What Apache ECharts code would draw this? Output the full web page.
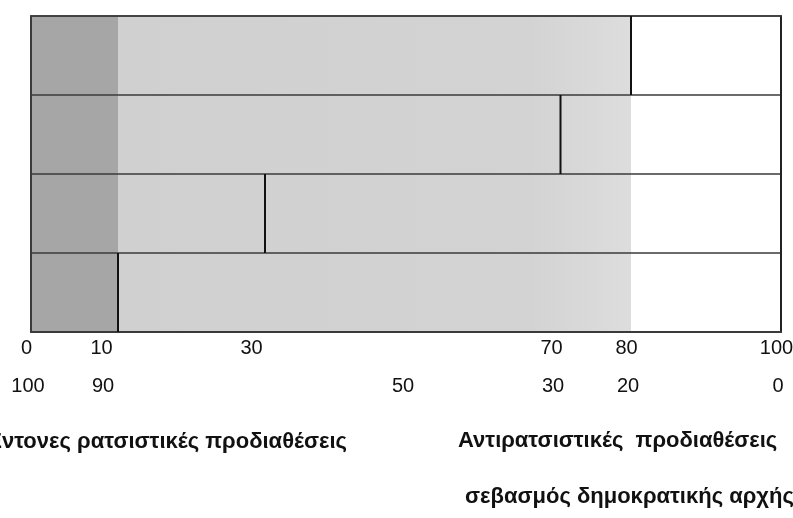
<!DOCTYPE html>
<html>
<head>
<meta charset="utf-8">
<script src="https://cdn.jsdelivr.net/npm/echarts@6/dist/echarts.min.js"></script>
<style>html,body{margin:0;padding:0;background:#fff}#c{width:793px;height:518px}</style>
</head>
<body>
<div id="c"></div>
<script>
// Rows (top to bottom)
const rows = ['1', '2', '3', '4'];
// Background band edges (same in every row)
const darkEnd = [11.6, 11.6, 11.6, 11.6];
const lightPart = [68.4, 68.4, 68.4, 68.4];   // 11.6 -> 80
const whitePart = [20, 20, 20, 20];           // 80 -> 100
// Position of the vertical marker in each row
const markers = [80, 70.6, 31.2, 11.6];
// Tick labels
const topTicks = [0, 10, 30, 70, 80, 100];
const bottomTicks = [100, 90, 50, 30, 20, 0];
// Titles
const leftTitle = 'Έντονες ρατσιστικές προδιαθέσεις';
const rightTitle = 'Αντιρατσιστικές  προδιαθέσεις';
const rightSub = 'σεβασμός δημοκρατικής αρχής';

const chart = echarts.init(document.getElementById('c'), null, {renderer: 'canvas'});
const FONT = 'Liberation Sans, Arial, Helvetica, sans-serif';
const lineCol = '#3a3a3a';

chart.setOption({
  animation: false,
  backgroundColor: '#fff',
  grid: {left: 31, right: 12, top: 16, bottom: 186, containLabel: false, outerBoundsMode: 'none'},
  xAxis: [
    {
      type: 'value', min: 0, max: 100, position: 'bottom', z: 10,
      axisLine: {show: true, lineStyle: {color: lineCol, width: 2}},
      axisTick: {show: false}, splitLine: {show: false},
      axisLabel: {customValues: topTicks, margin: 6, fontSize: 20, color: '#111', fontFamily: FONT, padding: [0, 9, 0, 0], hideOverlap: false}
    },
    {
      type: 'value', min: 0, max: 100, inverse: true, position: 'bottom', offset: 38,
      axisLine: {show: false}, axisTick: {show: false}, splitLine: {show: false},
      axisLabel: {customValues: bottomTicks, margin: 6, fontSize: 20, color: '#111', fontFamily: FONT, padding: [0, 6, 0, 0], hideOverlap: false}
    },
    {
      type: 'value', min: 0, max: 100, position: 'top', z: 10,
      axisLine: {show: true, lineStyle: {color: lineCol, width: 1.5}},
      axisTick: {show: false}, axisLabel: {show: false}, splitLine: {show: false}
    }
  ],
  yAxis: [
    {
      type: 'category', data: rows, inverse: true, position: 'left', z: 10,
      axisLine: {show: true, lineStyle: {color: lineCol, width: 2}},
      axisTick: {show: false}, axisLabel: {show: false},
      splitLine: {show: true, lineStyle: {color: lineCol, width: 1.5}}
    },
    {
      type: 'category', data: rows, inverse: true, position: 'right', z: 10,
      axisLine: {show: true, lineStyle: {color: '#222', width: 2}},
      axisTick: {show: false}, axisLabel: {show: false}, splitLine: {show: false}
    }
  ],
  series: [
    {
      type: 'bar', stack: 's', data: darkEnd, barWidth: '100%', barCategoryGap: 0,
      itemStyle: {color: '#a6a6a6'}, silent: true
    },
    {
      type: 'bar', stack: 's', data: lightPart, barWidth: '100%',
      itemStyle: {color: new echarts.graphic.LinearGradient(0, 0, 1, 0, [
        {offset: 0, color: '#d0d0d0'}, {offset: 0.8, color: '#d3d3d3'}, {offset: 1, color: '#dddddd'}
      ])}, silent: true
    },
    {
      type: 'bar', stack: 's', data: whitePart, barWidth: '100%',
      itemStyle: {color: '#ffffff'}, silent: true
    },
    {
      type: 'custom', z: 12, silent: true,
      data: markers.map((v, i) => [i, v]),
      encode: {y: 0, x: 1},
      renderItem: function (params, api) {
        const p = api.coord([api.value(1), api.value(0)]);
        const h = api.size([0, 1])[1];
        return {
          type: 'line',
          shape: {x1: p[0], y1: p[1] - h / 2, x2: p[0], y2: p[1] + h / 2},
          style: {stroke: '#111', lineWidth: 2}
        };
      }
    }
  ],
  graphic: [
    {type: 'text', x: 347, y: 442, style: {text: leftTitle, align: 'right', verticalAlign: 'middle', font: 'bold 22px ' + FONT, fill: '#111'}},
    {type: 'text', x: 458, y: 441, style: {text: rightTitle, align: 'left', verticalAlign: 'middle', font: 'bold 22px ' + FONT, fill: '#111'}},
    {type: 'text', x: 465, y: 497, style: {text: rightSub, align: 'left', verticalAlign: 'middle', font: 'bold 22px ' + FONT, fill: '#111'}}
  ]
});
</script>
</body>
</html>
